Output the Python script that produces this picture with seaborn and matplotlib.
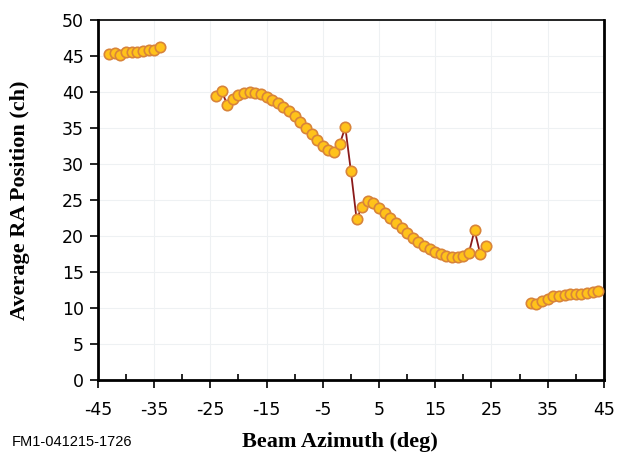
import numpy as np
import pandas as pd
import seaborn as sns
import matplotlib.pyplot as plt
from matplotlib.ticker import MultipleLocator

# Data
seg1_x = list(range(-43, -33))
seg1_y = [45.3, 45.4, 45.2, 45.5, 45.5, 45.6, 45.7, 45.8, 45.9, 46.2]

seg2_x = list(range(-24, 25))
seg2_y = [39.4, 40.2, 38.2, 39.0, 39.6, 39.8, 40.0, 39.8, 39.7, 39.3,
          38.9, 38.5, 37.95, 37.3, 36.6, 35.8, 35.0, 34.2, 33.4, 32.55,
          31.9, 31.6, 32.75, 35.1, 29.0, 22.4, 24.0, 24.8, 24.6, 23.9,
          23.2, 22.5, 21.8, 21.1, 20.4, 19.75, 19.2, 18.6, 18.15, 17.8,
          17.45, 17.2, 17.1, 17.1, 17.2, 17.7, 20.8, 17.5, 18.6]

seg3_x = list(range(32, 45))
seg3_y = [10.7, 10.5, 10.9, 11.3, 11.6, 11.7, 11.8, 11.9, 12.0, 12.0, 12.1, 12.2, 12.3]

x_ticks = [-45, -35, -25, -15, -5, 5, 15, 25, 35, 45]
y_ticks = [0, 5, 10, 15, 20, 25, 30, 35, 40, 45, 50]

df = pd.DataFrame({
    "azimuth": seg1_x + seg2_x + seg3_x,
    "position": seg1_y + seg2_y + seg3_y,
    "seg": [1] * len(seg1_x) + [2] * len(seg2_x) + [3] * len(seg3_x),
})

sns.set_style("white")
plt.rcParams["axes.unicode_minus"] = False
fig = plt.figure(figsize=(6.2, 4.55), dpi=100)
ax = fig.add_axes([0.158, 0.165, 0.816, 0.791])

sns.lineplot(data=df, x="azimuth", y="position", units="seg", estimator=None,
             color="#8B1A1A", linewidth=1.3, marker="o", markersize=7.5,
             markerfacecolor="#FFC21A", markeredgecolor="#D8843A",
             markeredgewidth=1.2, ax=ax, zorder=3)

ax.set_xlim(-45, 45)
ax.set_ylim(0, 50)
ax.set_xticks(x_ticks)
ax.set_yticks(y_ticks)
ax.xaxis.set_minor_locator(MultipleLocator(5))
ax.grid(True, which="major", color="#EEF1F3", linewidth=0.8)
ax.set_axisbelow(True)

for side in ["left", "bottom", "right"]:
    ax.spines[side].set_visible(True)
    ax.spines[side].set_color("black")
    ax.spines[side].set_linewidth(2)
ax.spines["top"].set_visible(True)
ax.spines["top"].set_color("black")
ax.spines["top"].set_linewidth(1.2)

ax.tick_params(axis="both", which="major", direction="out", length=6,
               width=1.2, color="black", labelsize=12.5, pad=4,
               labelcolor="black", bottom=True, left=True)
ax.tick_params(axis="x", which="minor", direction="in", length=4,
               width=1.2, color="black", bottom=True)
ax.tick_params(axis="x", which="major", pad=9)

ax.set_xlabel("Beam Azimuth (deg)", family="Liberation Serif",
              fontweight="bold", fontsize=16, color="black")
ax.set_ylabel("Average RA Position (ch)", family="Liberation Serif",
              fontweight="bold", fontsize=16, color="black")
ax.xaxis.set_label_coords(0.478, -0.145)
ax.yaxis.set_label_coords(-0.135, 0.5)

fig.text(0.019, 0.02, "FM1-041215-1726", family="Liberation Sans",
         fontsize=10.5, color="black")

fig.savefig("out.png", dpi=100)
